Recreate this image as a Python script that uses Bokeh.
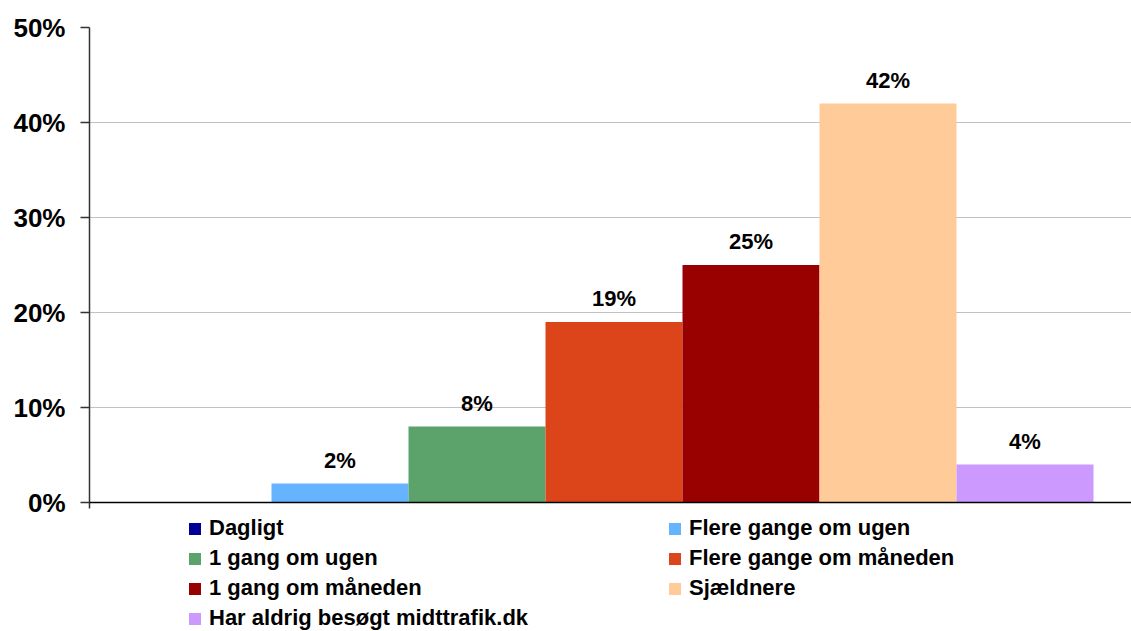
from bokeh.plotting import figure
from bokeh.models import (ColumnDataSource, Range1d, FixedTicker, PrintfTickFormatter,
                          Legend, LegendItem, LabelSet, Span)
from bokeh.core.properties import value
from bokeh.embed import file_html
from bokeh.resources import INLINE

categories = ["Dagligt", "Flere gange om ugen", "1 gang om ugen", "Flere gange om måneden",
              "1 gang om måneden", "Sjældnere", "Har aldrig besøgt midttrafik.dk"]
values = [0, 2, 8, 19, 25, 42, 4]
colors = ["#000099", "#66B3FF", "#5BA36A", "#DB4519", "#990000", "#FFCC99", "#CC99FF"]
y_ticks = [0, 10, 20, 30, 40, 50]

FONT = "Liberation Sans"

xs = list(range(len(categories)))
labels = [f"{v}%" if v > 0 else "" for v in values]
src = ColumnDataSource(dict(x=xs, top=values, color=colors, cat=categories, label=labels))

x_start = -0.5 - 45 / 137
x_end = x_start + 1042 / 137
y_bottom = -129 / 9.5

p = figure(width=1131, height=631, output_backend="svg", toolbar_location=None,
           x_range=Range1d(x_start, x_end), y_range=Range1d(y_bottom, 50),
           min_border_left=89, min_border_right=0, min_border_top=27, min_border_bottom=0)
p.outline_line_color = None
p.background_fill_color = "white"

renderers = []
for i in xs:
    s = ColumnDataSource(dict(x=[xs[i]], top=[values[i]]))
    r = p.vbar(x="x", top="top", width=1.0, bottom=0, source=s,
               fill_color=colors[i], line_color=None)
    renderers.append(r)

lbl = LabelSet(x="x", y="top", text="label", source=src, text_align="center",
               text_baseline="bottom", y_offset=11, text_font=value(FONT),
               text_font_size="22px", text_font_style="bold", text_color="black")
p.add_layout(lbl)

# y axis
p.yaxis.ticker = FixedTicker(ticks=y_ticks)
p.yaxis.bounds = (-0.65, 50)
p.yaxis.formatter = PrintfTickFormatter(format="%d%%")
p.yaxis.major_label_text_font = FONT
p.yaxis.major_label_text_font_size = "26px"
p.yaxis.major_label_text_font_style = "bold"
p.yaxis.major_label_text_color = "black"
p.yaxis.major_label_standoff = 15
p.yaxis.major_tick_out = 9
p.yaxis.major_tick_in = 0
p.yaxis.minor_tick_line_color = None
p.yaxis.axis_line_color = "#333333"
p.yaxis.axis_line_width = 1.5
p.yaxis.major_tick_line_color = "#333333"
p.yaxis.major_tick_line_width = 1.5

p.xaxis.visible = False
p.xgrid.grid_line_color = None
p.ygrid.ticker = FixedTicker(ticks=y_ticks[1:])
p.ygrid.grid_line_color = "#C0C0C0"
p.ygrid.grid_line_width = 1

baseline = Span(location=0, dimension="width", line_color="black", line_width=1.5)
p.add_layout(baseline)

items = [LegendItem(label=categories[i], renderers=[renderers[i]]) for i in xs]
lg = Legend(items=items, location=(98, 0), orientation="horizontal", ncols=2,
            border_line_color=None, background_fill_alpha=0, padding=0, margin=0,
            label_text_font=FONT, label_text_font_size="22px",
            label_text_font_style="bold", label_text_color="black",
            glyph_width=15, glyph_height=15, label_height=22, spacing=4,
            label_standoff=7, label_width=454)
p.add_layout(lg, "center")

open("out.html", "w").write(file_html(p, INLINE))
